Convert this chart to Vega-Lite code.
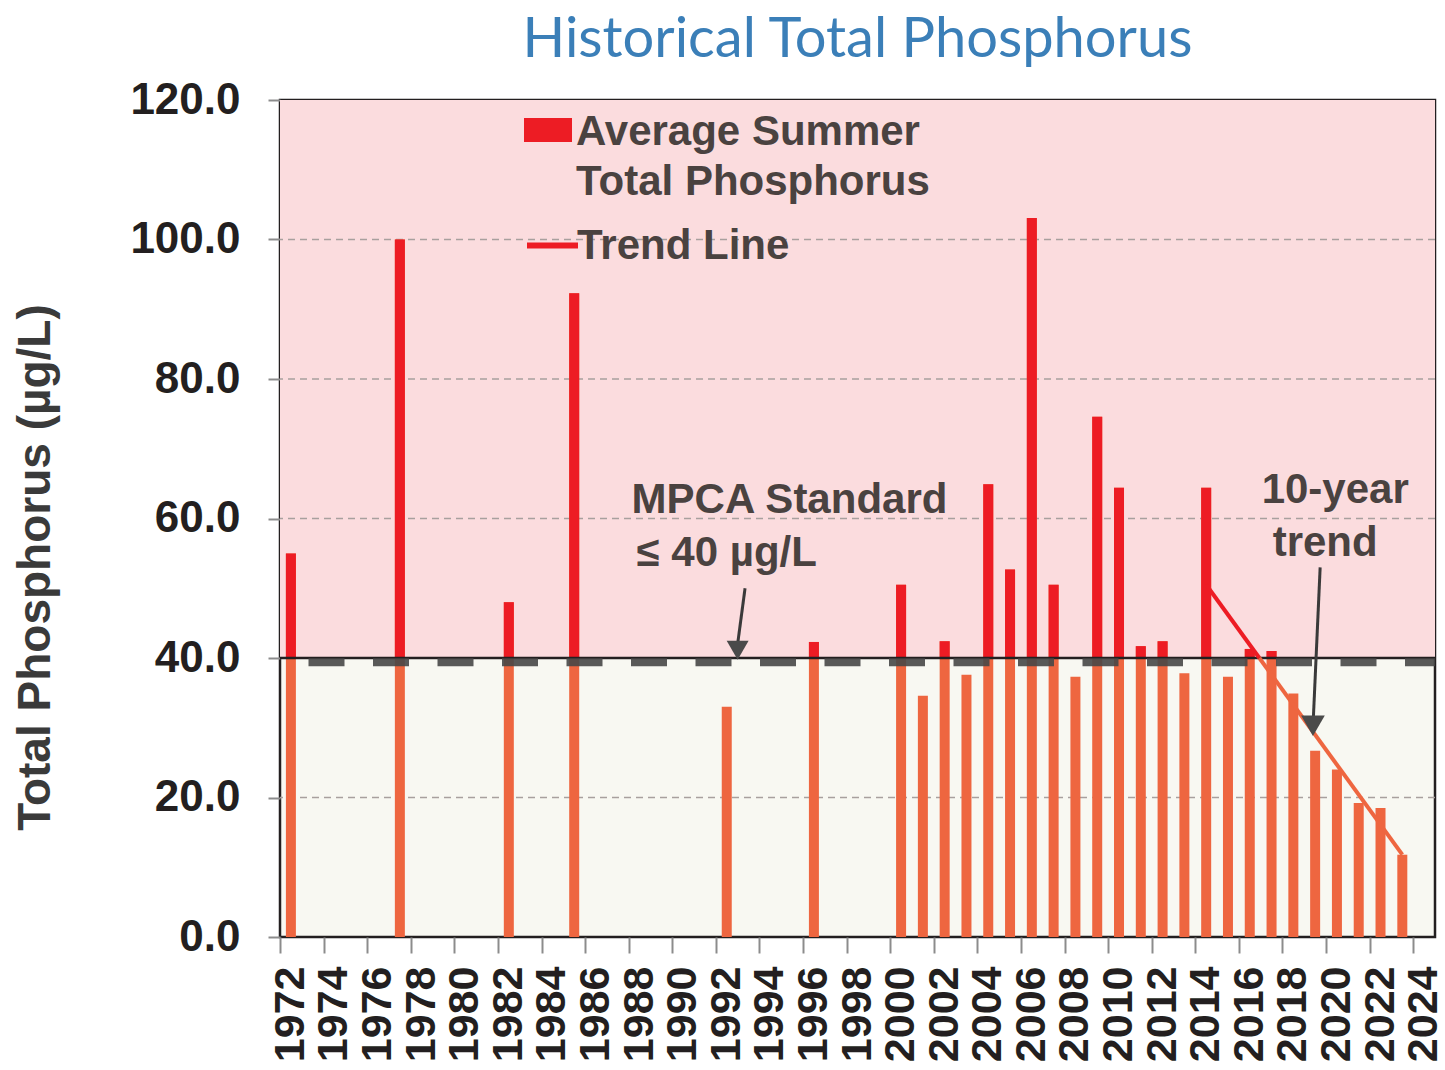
{
  "$schema": "https://vega.github.io/schema/vega-lite/v6.json",
  "width": 1155,
  "height": 837,
  "autosize": {"type": "none"},
  "padding": {"left": 280, "top": 100, "right": 10, "bottom": 133},
  "background": "white",
  "title": {
    "text": "Historical Total Phosphorus",
    "font": "Lato",
    "fontSize": 56,
    "fontWeight": "normal",
    "color": "#3b7fb8",
    "anchor": "middle",
    "baseline": "alphabetic",
    "offset": -35
  },
  "config": {
    "font": "Liberation Sans",
    "view": {"stroke": "#231f20", "strokeWidth": 2.5, "fill": "#f8f8f2"}
  },
  "datasets": {
    "tp": [
      {"year": 1972, "tp": 55.0},
      {"year": 1977, "tp": 100.0},
      {"year": 1982, "tp": 48.0},
      {"year": 1985, "tp": 92.3},
      {"year": 1992, "tp": 33.0},
      {"year": 1996, "tp": 42.3},
      {"year": 2000, "tp": 50.5},
      {"year": 2001, "tp": 34.6},
      {"year": 2002, "tp": 42.4},
      {"year": 2003, "tp": 37.6},
      {"year": 2004, "tp": 64.9},
      {"year": 2005, "tp": 52.7},
      {"year": 2006, "tp": 103.1},
      {"year": 2007, "tp": 50.5},
      {"year": 2008, "tp": 37.3},
      {"year": 2009, "tp": 74.6},
      {"year": 2010, "tp": 64.4},
      {"year": 2011, "tp": 41.7},
      {"year": 2012, "tp": 42.4},
      {"year": 2013, "tp": 37.8},
      {"year": 2014, "tp": 64.4},
      {"year": 2015, "tp": 37.3},
      {"year": 2016, "tp": 41.3},
      {"year": 2017, "tp": 41.0},
      {"year": 2018, "tp": 34.9},
      {"year": 2019, "tp": 26.7},
      {"year": 2020, "tp": 24.0},
      {"year": 2021, "tp": 19.2},
      {"year": 2022, "tp": 18.5},
      {"year": 2023, "tp": 11.8}
    ],
    "trend": [
      {"year": 2014, "tp": 50.5, "part": "above"},
      {"year": 2016.44, "tp": 40.0, "part": "above"},
      {"year": 2016.44, "tp": 40.0, "part": "below"},
      {"year": 2023, "tp": 11.8, "part": "below"}
    ],
    "grid": [{"v": 20}, {"v": 60}, {"v": 80}, {"v": 100}],
    "notes": [
      {"label": "MPCA Standard", "year": 1994.88, "tp": 62.6},
      {"label": "≤ 40 µg/L", "year": 1992.0, "tp": 55.0},
      {"label": "10-year", "year": 2019.92, "tp": 64.1},
      {"label": "trend", "year": 2019.46, "tp": 56.5}
    ],
    "arrows": [
      {"year": 1992.84, "tp": 50.0, "year2": 1992.5, "tp2": 42.0},
      {"year": 2019.23, "tp": 53.0, "year2": 2018.92, "tp2": 31.5}
    ],
    "heads": [
      {"year": 1992.5, "tp": 41.1, "s": 480},
      {"year": 2018.9, "tp": 30.3, "s": 560}
    ]
  },
  "layer": [
    {
      "data": {"values": [{}]},
      "mark": {"type": "rect", "color": "#fbdcde"},
      "encoding": {
        "y": {
          "datum": 40,
          "type": "quantitative",
          "scale": {"domain": [0, 120], "nice": false, "zero": false},
          "axis": {
            "values": [0, 20, 40, 60, 80, 100, 120],
            "format": ".1f",
            "grid": false,
            "domain": false,
            "tickColor": "#8c8c8c",
            "tickSize": 12,
            "tickWidth": 2,
            "labelPadding": 28,
            "labelFontSize": 44,
            "labelFontWeight": "bold",
            "labelColor": "#231f20",
            "title": "Total Phosphorus (µg/L)",
            "titleFontSize": 46,
            "titleFontWeight": "bold",
            "titleColor": "#3a3a3a",
            "titleX": -245,
            "titleY": 467,
            "titleAlign": "center",
            "titleBaseline": "middle",
            "titleAngle": -90
          }
        },
        "y2": {"datum": 120}
      }
    },
    {
      "data": {"name": "grid"},
      "mark": {"type": "rule", "color": "#a8a09e", "strokeDash": [7, 5], "strokeWidth": 1.5},
      "encoding": {"y": {"field": "v", "type": "quantitative"}}
    },
    {
      "data": {"name": "tp"},
      "mark": {"type": "bar", "color": "#ee6640", "width": 10},
      "encoding": {
        "x": {
          "field": "year",
          "type": "quantitative",
          "scale": {"domain": [1971.5, 2024.5], "nice": false, "zero": false, "padding": 0},
          "axis": {
            "values": [1972, 1974, 1976, 1978, 1980, 1982, 1984, 1986, 1988, 1990, 1992, 1994, 1996, 1998, 2000, 2002, 2004, 2006, 2008, 2010, 2012, 2014, 2016, 2018, 2020, 2022, 2024],
            "format": "d",
            "title": null,
            "grid": false,
            "domain": false,
            "tickOffset": -10.9,
            "labelOffset": 10.4,
            "tickColor": "#8c8c8c",
            "tickSize": 16,
            "tickWidth": 2,
            "labelPadding": 13,
            "labelAngle": -90,
            "labelFontSize": 43,
            "labelFontWeight": "bold",
            "labelColor": "#231f20",
            "labelOverlap": false
          }
        },
        "y": {"field": "tp", "type": "quantitative"},
        "y2": {"datum": 0}
      }
    },
    {
      "data": {"name": "tp"},
      "transform": [{"filter": "datum.tp > 40"}],
      "mark": {"type": "bar", "width": 10},
      "encoding": {
        "x": {"field": "year", "type": "quantitative"},
        "y": {"field": "tp", "type": "quantitative"},
        "y2": {"datum": 40},
        "fill": {
          "datum": "Average Summer Total Phosphorus",
          "type": "nominal",
          "scale": {"range": ["#ed1c24"]},
          "legend": {
            "orient": "none",
            "legendX": 244,
            "legendY": 6,
            "title": null,
            "padding": 0,
            "symbolType": "M-1,-0.5H1V0.5H-1Z",
            "symbolSize": 2304,
            "symbolStrokeWidth": 0,
            "labelFontSize": 42,
            "labelFontWeight": "bold",
            "labelColor": "#4a4240",
            "labelOffset": 4,
            "labelLimit": 0,
            "labelBaseline": "top",
            "labelExpr": "['Average Summer', 'Total Phosphorus']",
            "encode": {
              "labels": {
                "update": {
                  "dy": {"value": -18},
                  "lineHeight": {"value": 50}
                }
              }
            }
          }
        }
      }
    },
    {
      "data": {"values": [{}]},
      "mark": {"type": "rule", "color": "#231f20", "strokeWidth": 2.5},
      "encoding": {"y": {"datum": 40, "type": "quantitative"}}
    },
    {
      "data": {"values": [{}]},
      "mark": {"type": "rule", "color": "#474747", "opacity": 0.9, "strokeWidth": 8, "strokeDash": [36, 28.5], "strokeDashOffset": 6},
      "encoding": {"y": {"datum": 39.4, "type": "quantitative"}}
    },
    {
      "data": {"name": "trend"},
      "transform": [{"filter": "datum.part == 'above'"}],
      "mark": {"type": "line", "strokeWidth": 4},
      "encoding": {
        "x": {"field": "year", "type": "quantitative"},
        "y": {"field": "tp", "type": "quantitative"},
        "stroke": {
          "datum": "Trend Line",
          "type": "nominal",
          "scale": {"range": ["#ed1c24"]},
          "legend": {
            "orient": "none",
            "legendX": 244,
            "legendY": 117,
            "title": null,
            "padding": 0,
            "symbolType": "stroke",
            "symbolSize": 2601,
            "symbolStrokeWidth": 6,
            "labelFontSize": 42,
            "labelFontWeight": "bold",
            "labelColor": "#4a4240",
            "labelOffset": -4,
            "labelLimit": 0
          }
        }
      }
    },
    {
      "data": {"name": "trend"},
      "transform": [{"filter": "datum.part == 'below'"}],
      "mark": {"type": "line", "strokeWidth": 4, "color": "#ee6640"},
      "encoding": {
        "x": {"field": "year", "type": "quantitative"},
        "y": {"field": "tp", "type": "quantitative"}
      }
    },
    {
      "data": {"name": "arrows"},
      "mark": {"type": "rule", "color": "#3a3a3a", "strokeWidth": 3},
      "encoding": {
        "x": {"field": "year", "type": "quantitative"},
        "y": {"field": "tp", "type": "quantitative"},
        "x2": {"field": "year2"},
        "y2": {"field": "tp2"}
      }
    },
    {
      "data": {"name": "heads"},
      "mark": {"type": "point", "shape": "triangle-down", "filled": true, "color": "#4a4a4a", "opacity": 1},
      "encoding": {
        "x": {"field": "year", "type": "quantitative"},
        "y": {"field": "tp", "type": "quantitative"},
        "size": {"field": "s", "type": "quantitative", "scale": null, "legend": null}
      }
    },
    {
      "data": {"name": "notes"},
      "mark": {"type": "text", "fontSize": 42, "fontWeight": "bold", "color": "#4a4240", "baseline": "middle", "align": "center"},
      "encoding": {
        "x": {"field": "year", "type": "quantitative"},
        "y": {"field": "tp", "type": "quantitative"},
        "text": {"field": "label"}
      }
    }
  ]
}
